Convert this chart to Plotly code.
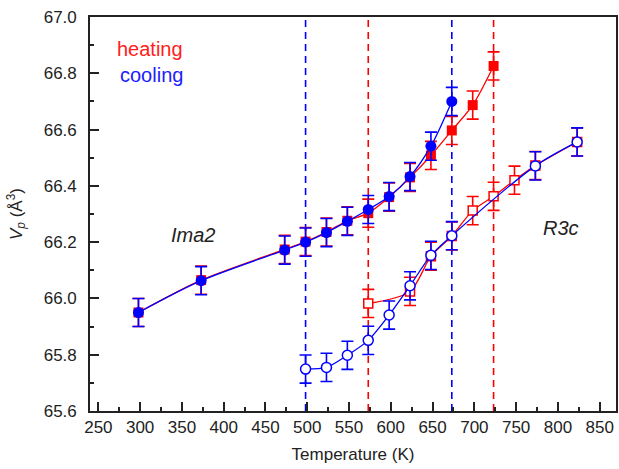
import plotly.graph_objects as go

# ---- data ----
T_ima2_heat = [298, 373, 473, 498, 523, 548, 573, 598, 623, 648, 673, 698, 723]
V_ima2_heat = [65.950, 66.065, 66.174, 66.202, 66.236, 66.276, 66.303, 66.360, 66.430, 66.508, 66.597, 66.687, 66.826]

T_r3c_heat = [573, 623, 648, 673, 698, 723, 748, 773, 823]
V_r3c_heat = [65.982, 66.025, 66.150, 66.222, 66.312, 66.363, 66.420, 66.472, 66.556]

T_ima2_cool = [298, 373, 473, 498, 523, 548, 573, 598, 623, 648, 673]
V_ima2_cool = [65.950, 66.063, 66.172, 66.200, 66.234, 66.274, 66.316, 66.362, 66.433, 66.541, 66.700]

T_r3c_cool = [498, 523, 548, 573, 598, 623, 648, 673, 773, 823]
V_r3c_cool = [65.749, 65.755, 65.798, 65.851, 65.941, 66.045, 66.153, 66.223, 66.471, 66.556]

err = 0.05

heating_transitions = [573, 723]
cooling_transitions = [498, 673]

RED = "#FF0000"
BLUE = "#0000FF"
FONT = "Liberation Sans, Arial, sans-serif"

fig = go.Figure()

def add_series(x, y, color, symbol, size, open_marker):
    fig.add_trace(go.Scatter(
        x=x, y=y, mode="lines+markers",
        line=dict(color=color, width=1.3, shape="spline", smoothing=0.8),
        marker=dict(symbol=symbol, size=size,
                    color="white" if open_marker else color,
                    line=dict(color=color, width=1.5 if open_marker else 0)),
        error_y=dict(type="constant", value=err, color=color, thickness=1.6, width=6),
        showlegend=False, hoverinfo="skip",
    ))

add_series(T_ima2_heat, V_ima2_heat, RED, "square", 10, False)
add_series(T_r3c_heat, V_r3c_heat, RED, "square", 9, True)
add_series(T_ima2_cool, V_ima2_cool, BLUE, "circle", 11, False)
add_series(T_r3c_cool, V_r3c_cool, BLUE, "circle", 10, True)

for t in heating_transitions:
    fig.add_shape(type="line", xref="x", yref="paper", x0=t, x1=t, y0=0, y1=1,
                  line=dict(color=RED, width=1.6, dash="7px,5px"), layer="below")
for t in cooling_transitions:
    fig.add_shape(type="line", xref="x", yref="paper", x0=t, x1=t, y0=0, y1=1,
                  line=dict(color=BLUE, width=1.6, dash="7px,5px"), layer="below")

fig.add_annotation(x=312, y=66.885, text="heating", showarrow=False,
                   font=dict(family=FONT, size=20, color="#FF2020"))
fig.add_annotation(x=314, y=66.793, text="cooling", showarrow=False,
                   font=dict(family=FONT, size=20, color="#2020FF"))
fig.add_annotation(x=363, y=66.226, text="<i>Ima2</i>", showarrow=False,
                   font=dict(family=FONT, size=20, color="#222222"))
fig.add_annotation(x=804, y=66.251, text="<i>R3c</i>", showarrow=False,
                   font=dict(family=FONT, size=20, color="#222222"))

axis_common = dict(
    showgrid=False, zeroline=False, showline=True, linecolor="#222222", linewidth=1.6,
    mirror=True, ticks="inside", ticklen=9, tickwidth=1.5, tickcolor="#222222",
    tickfont=dict(family=FONT, size=17, color="#222222"),
    ticklabeloverflow="allow",
)

fig.update_xaxes(
    range=[240, 869.5], tick0=250, dtick=50,
    minor=dict(ticks="inside", ticklen=4, tickwidth=1.5, tickcolor="#222222", dtick=25, tick0=250),
    title=dict(text="Temperature (K)", font=dict(family=FONT, size=17, color="#222222"), standoff=12),
    **axis_common,
)
fig.update_yaxes(
    range=[65.6, 67.0], tick0=65.6, dtick=0.2, tickformat=".1f",
    minor=dict(ticks="inside", ticklen=4, tickwidth=1.5, tickcolor="#222222", dtick=0.1, tick0=65.6),
    title=dict(text="<i>V</i><sub><i>p</i></sub> (Å<sup>3</sup>)",
               font=dict(family=FONT, size=17, color="#222222"), standoff=17),
    ticklabelstandoff=8,
    **axis_common,
)

fig.update_layout(
    width=619, height=469,
    margin=dict(l=90, r=1, t=17, b=58),
    plot_bgcolor="white", paper_bgcolor="white",
    font=dict(family=FONT, color="#222222"),
)

# remove the default 8px page margin so the figure fills the window exactly
fig.write_html("out.html", config={"displayModeBar": False},
               post_script="document.body.style.margin='0';")
